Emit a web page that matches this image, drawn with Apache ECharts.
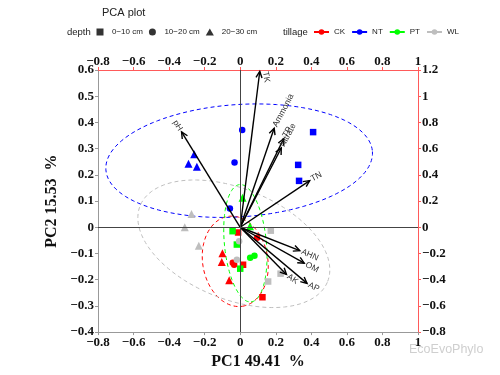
<!DOCTYPE html>
<html>
<head>
<meta charset="utf-8">
<script src="https://cdn.jsdelivr.net/npm/echarts@6/dist/echarts.min.js"></script>
<style>
  html, body { margin: 0; padding: 0; background: #fff; }
  #chart { width: 500px; height: 375px; }
</style>
</head>
<body>
<div id="chart"></div>
<script>
// sample scores: [PC1, PC2, depth index]
const depths = ['0−10 cm', '10−20 cm', '20−30 cm'];
const tillage = ['CK', 'NT', 'PT', 'WL'];

const ckPoints = [
  [-0.012, -0.020, 0], [0.095, -0.040, 1], [-0.100, -0.099, 2],
  [-0.104, -0.133, 2], [-0.062, -0.202, 2], [-0.034, -0.143, 1],
  [-0.042, -0.135, 1], [0.016, -0.143, 0], [0.125, -0.267, 0]
];
const ntPoints = [
  [0.011, 0.371, 1], [-0.032, 0.247, 1], [-0.058, 0.072, 1],
  [0.410, 0.363, 0], [0.326, 0.238, 0], [0.331, 0.177, 0],
  [-0.259, 0.279, 2], [-0.291, 0.242, 2], [-0.244, 0.231, 2]
];
const ptPoints = [
  [0.013, 0.113, 2], [0.055, 0.004, 2], [-0.043, -0.015, 0],
  [-0.019, -0.066, 0], [0.000, -0.158, 0], [0.056, -0.116, 1],
  [0.080, -0.109, 1]
];
const wlPoints = [
  [-0.274, 0.051, 2], [-0.312, 0.000, 2], [-0.233, -0.071, 2],
  [-0.006, -0.053, 1], [-0.019, -0.124, 1], [0.172, -0.013, 0],
  [0.227, -0.177, 0], [0.157, -0.207, 0]
];

// ellipses: centre x, centre y, half-axis u (x, y), half-axis v (x, y)
const ellipseCK = [-0.028, -0.130, 0.0407, -0.1714, 0.1811, 0.0191];
const ellipseNT = [-0.006, 0.254, 0.7497, 0.0349, 0.0225, -0.2137];
const ellipsePT = [0.029, -0.061, 0.0318, -0.2239, 0.1175, 0.0074];
const ellipseWL = [-0.036, -0.063, 0.526, -0.147, -0.122, -0.194];

// variable loadings, read on the top / right axes
const varNames = ['pH', 'TK', 'Ammonia', 'TP', 'Nitrate', 'TN', 'AHN', 'OM', 'AK', 'AP'];
const varX = [-0.330, 0.110, 0.191, 0.245, 0.231, 0.391, 0.335, 0.360, 0.260, 0.376];
const varY = [0.727, 1.189, 0.756, 0.676, 0.605, 0.356, -0.178, -0.274, -0.360, -0.428];
const labelAngle = [-58, -80, 62, 60, 62, 28, -24, -28, -35, -25];

const groupColors = { CK: '#ff0000', NT: '#0000ff', PT: '#00ff00', WL: '#bebebe' };
const depthSymbols = ['rect', 'circle', 'triangle'];
const depthSizes = [6.5, 6.5, 8];
const depthIcons = ['path://M0,0H10V10H0Z', 'circle', 'path://M5,0L10.5,9.5L-0.5,9.5Z'];

const chart = echarts.init(document.getElementById('chart'));

function fmt(v) {
  if (Math.abs(v) < 1e-9) return '0';
  return String(parseFloat(v.toFixed(1))).replace('-', '−');
}

const labelFont = { fontFamily: 'Liberation Serif', fontWeight: 'bold', fontSize: 13, color: '#111' };

function renderEllipse(params, api) {
  const cx = api.value(0), cy = api.value(1);
  const ux = api.value(2), uy = api.value(3), vx = api.value(4), vy = api.value(5);
  const pts = [];
  for (let i = 0; i <= 120; i++) {
    const t = i / 120 * Math.PI * 2;
    pts.push(api.coord([cx + ux * Math.cos(t) + vx * Math.sin(t), cy + uy * Math.cos(t) + vy * Math.sin(t)]));
  }
  return {
    type: 'polyline',
    shape: { points: pts },
    style: { fill: 'none', stroke: api.visual('color'), lineWidth: 1, lineDash: [4, 3] }
  };
}

function renderArrow(params, api) {
  const o = api.coord([0, 0]);
  const p = api.coord([api.value(0), api.value(1)]);
  const ang = Math.atan2(p[1] - o[1], p[0] - o[0]);
  const h = 7, spread = Math.PI / 7;
  const h1 = [p[0] - h * Math.cos(ang - spread), p[1] - h * Math.sin(ang - spread)];
  const h2 = [p[0] - h * Math.cos(ang + spread), p[1] - h * Math.sin(ang + spread)];
  const i = params.dataIndex;
  const rot = api.value(2) * Math.PI / 180;
  // TK label sits beside its arrow rather than beyond the tip
  const beside = varNames[i] === 'TK';
  return {
    type: 'group',
    children: [
      { type: 'line', shape: { x1: o[0], y1: o[1], x2: p[0], y2: p[1] }, style: { stroke: '#000', lineWidth: 1.4 } },
      { type: 'polyline', shape: { points: [h1, p, h2] }, style: { stroke: '#000', lineWidth: 1.4, fill: 'none' } },
      {
        type: 'text',
        x: p[0] + (beside ? 1 : 2 * Math.cos(ang)),
        y: p[1] + (beside ? 1 : 2 * Math.sin(ang)),
        rotation: rot,
        style: {
          text: varNames[i],
          fontFamily: 'Liberation Sans',
          fontSize: 8.5,
          fill: '#333',
          align: varX[i] < 0 ? 'right' : 'left',
          verticalAlign: beside ? 'bottom' : 'middle'
        }
      }
    ]
  };
}

function pointSeries(name, pts) {
  return {
    name: name + ' scores',
    type: 'scatter',
    z: 3,
    itemStyle: { color: groupColors[name], opacity: 1 },
    data: pts.map(d => ({
      value: [d[0], d[1]],
      symbol: depthSymbols[d[2]],
      symbolSize: depthSizes[d[2]]
    }))
  };
}

const series = [
  {
    type: 'scatter',
    data: [],
    silent: true,
    markLine: {
      silent: true,
      symbol: 'none',
      label: { show: false },
      lineStyle: { color: '#444', width: 1, type: 'solid' },
      data: [{ xAxis: 0 }, { yAxis: 0 }]
    }
  },
  {
    type: 'custom',
    z: 2,
    renderItem: renderEllipse,
    data: [
      { value: ellipseCK, itemStyle: { color: groupColors.CK } },
      { value: ellipseNT, itemStyle: { color: groupColors.NT } },
      { value: ellipsePT, itemStyle: { color: groupColors.PT } },
      { value: ellipseWL, itemStyle: { color: groupColors.WL } }
    ]
  },
  pointSeries('CK', ckPoints),
  pointSeries('NT', ntPoints),
  pointSeries('PT', ptPoints),
  pointSeries('WL', wlPoints),
  {
    type: 'custom',
    z: 4,
    xAxisIndex: 1,
    yAxisIndex: 1,
    renderItem: renderArrow,
    data: varNames.map((n, i) => [varX[i], varY[i], labelAngle[i]])
  }
];

// legend-only series
depths.forEach((d, i) => series.push({
  name: d, type: 'scatter', data: [], symbol: depthSymbols[i], itemStyle: { color: '#000' }
}));
tillage.forEach(t => series.push({
  name: t, type: 'line', data: [], symbol: 'circle', symbolSize: 6,
  itemStyle: { color: groupColors[t] }, lineStyle: { color: groupColors[t], width: 1.5 }
}));

const legendText = { fontFamily: 'Liberation Sans', fontSize: 8, color: '#222' };

const option = {
  animation: false,
  title: {
    text: 'PCA plot', left: 97, top: 2,
    textStyle: { fontFamily: 'Liberation Sans', fontSize: 11, fontWeight: 'normal', color: '#222' }
  },
  legend: [
    {
      data: depths.map((d, i) => ({ name: d, icon: depthIcons[i] })),
      left: 96.5, top: 28, padding: 0, itemWidth: 14, itemHeight: 7, itemGap: 6,
      textStyle: legendText
    },
    {
      data: tillage, left: 313, top: 28, padding: 0, itemWidth: 15, itemHeight: 7, itemGap: 6,
      textStyle: legendText
    }
  ],
  graphic: [
    { type: 'text', left: 67, top: 27, style: { text: 'depth', fontFamily: 'Liberation Sans', fontSize: 9.5, fill: '#222' } },
    { type: 'text', left: 283, top: 27, style: { text: 'tillage', fontFamily: 'Liberation Sans', fontSize: 9.5, fill: '#222' } },
    { type: 'text', left: 409, top: 343, style: { text: 'EcoEvoPhylo', fontFamily: 'Liberation Sans', fontSize: 12.5, fill: '#cfcfcf' } }
  ],
  grid: { left: 98, right: 82, top: 70, bottom: 38 },
  xAxis: [
    {
      type: 'value', min: -0.8, max: 1, interval: 0.2,
      name: 'PC1 49.41  %', nameLocation: 'middle', nameGap: 14,
      nameTextStyle: { fontFamily: 'Liberation Serif', fontWeight: 'bold', fontSize: 16, color: '#111' },
      axisLine: { show: true, onZero: false, lineStyle: { color: '#999', width: 1 } },
      axisTick: { show: true, length: 3, lineStyle: { color: '#999' } },
      axisLabel: Object.assign({ margin: 4, formatter: fmt }, labelFont),
      splitLine: { show: false }
    },
    {
      type: 'value', position: 'top', min: -0.8, max: 1, interval: 0.2,
      axisLine: { show: true, onZero: false, lineStyle: { color: '#ff5a5a', width: 1 } },
      axisTick: { show: true, length: 3, lineStyle: { color: '#ff5a5a' } },
      axisLabel: Object.assign({ margin: 2, formatter: fmt }, labelFont),
      splitLine: { show: false }
    }
  ],
  yAxis: [
    {
      type: 'value', min: -0.4, max: 0.6, interval: 0.1,
      name: 'PC2 15.53  %', nameLocation: 'middle', nameGap: 31,
      nameTextStyle: { fontFamily: 'Liberation Serif', fontWeight: 'bold', fontSize: 16, color: '#111' },
      axisLine: { show: true, onZero: false, lineStyle: { color: '#999', width: 1 } },
      axisTick: { show: true, length: 3, lineStyle: { color: '#999' } },
      axisLabel: Object.assign({ margin: 4, formatter: fmt }, labelFont),
      splitLine: { show: false }
    },
    {
      type: 'value', position: 'right', min: -0.8, max: 1.2, interval: 0.2,
      axisLine: { show: true, onZero: false, lineStyle: { color: '#ff5a5a', width: 1 } },
      axisTick: { show: true, length: 3, lineStyle: { color: '#ff5a5a' } },
      axisLabel: Object.assign({ margin: 4, formatter: fmt }, labelFont),
      splitLine: { show: false }
    }
  ],
  series: series
};

chart.setOption(option);
</script>
</body>
</html>
